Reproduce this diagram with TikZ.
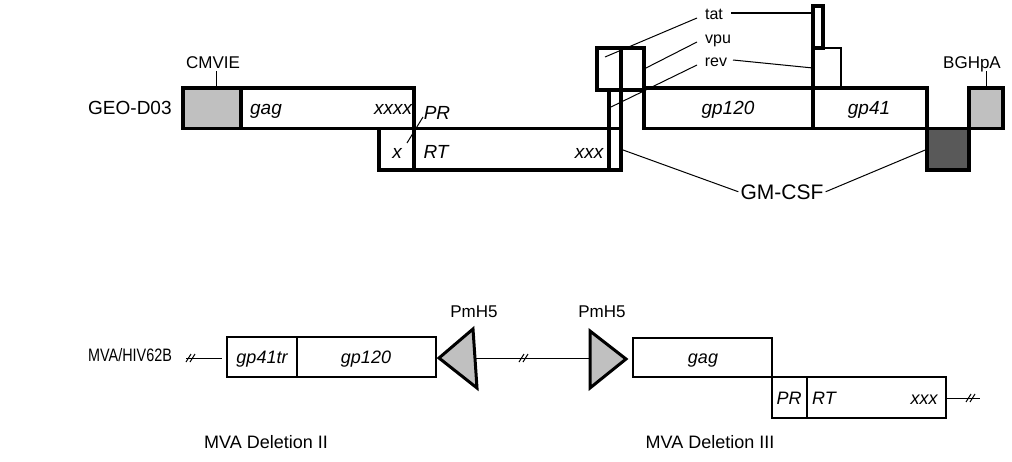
\documentclass[tikz,border=0pt]{standalone}
\usepackage{fontspec}
\setmainfont{Liberation Sans}
\definecolor{promo}{RGB}{192,192,192}
\definecolor{csf}{RGB}{89,89,89}
\tikzset{
  gene/.style={draw, line width=3.2pt, inner sep=0pt, outer sep=0pt, anchor=north west},
  genelbl/.style={inner sep=0pt, anchor=base, font=\fontsize{19}{22}\selectfont\itshape},
  lowlbl/.style={genelbl, font=\fontsize{18}{21}\selectfont\itshape},
  tag/.style={inner sep=0pt, anchor=base, font=\fontsize{17}{20}\selectfont},
  rowname/.style={inner sep=0pt, anchor=base west, font=\fontsize{19}{22}\selectfont},
  lead/.style={line width=1pt},
  brk/.style={line width=1pt},
  promoter/.style={line width=3pt, line join=miter, fill=promo},
}
\begin{document}
\begin{tikzpicture}[x=1pt,y=-1pt]
\useasboundingbox (0,0) rectangle (1012,461);

% ---------------- GEO-D03 construct ----------------
\node[rowname] (geo) at (88,114) {GEO-D03};

\node[gene, fill=promo, minimum width=58pt, minimum height=40.5pt] (cmv) at (183,88) {};
\node[gene, minimum width=173pt, minimum height=40.5pt] (gag) at (241,88) {};
\node[gene, minimum width=35pt, minimum height=41.5pt] (xb) at (379,128.5) {};
\node[gene, minimum width=195pt, minimum height=41.5pt] (rt) at (414,128.5) {};
\node[gene, minimum width=12pt, minimum height=38.5pt] (stripup) at (609,90) {};
\node[gene, minimum width=12pt, minimum height=41.5pt] (striplo) at (609,128.5) {};
\node[gene, minimum width=24pt, minimum height=42pt] (boxa) at (597,48) {};
\node[gene, minimum width=23pt, minimum height=42pt] (boxb) at (621,48) {};
\node[gene, minimum width=169pt, minimum height=40.5pt] (env) at (644,88) {};
\node[gene, minimum width=114pt, minimum height=40.5pt] (gp41) at (813,88) {};
\node[gene, minimum width=10pt, minimum height=42pt] (tatb) at (813,6) {};
\node[gene, line width=2.4pt, minimum width=28pt, minimum height=40pt] (revb) at (813,48) {};
\draw[line width=3.2pt] (revb.north west) -- (revb.south west);
\node[gene, fill=csf, minimum width=42pt, minimum height=41.5pt] (gm) at (927,128.5) {};
\node[gene, fill=promo, minimum width=34pt, minimum height=40.5pt] (bgh) at (969,88) {};

% gene names inside the boxes
\node[genelbl] (tgag) at (266,114) {gag};
\node[genelbl] (txxxx) at (393,114) {xxxx};
\node[genelbl] (tpr) at (437,119) {PR};
\node[genelbl] (tx) at (397,158) {x};
\node[genelbl] (trt) at (436,158) {RT};
\node[genelbl] (txxx) at (589,158) {xxx};
\node[genelbl] (tenv) at (728,114) {gp120};
\node[genelbl] (tgp41) at (869,114) {gp41};
\coordinate (prA) at (407,143);
\coordinate (prB) at (423,117);
\draw[lead] (prA) -- (prB);

% promoter / polyA tags
\node[tag] (lcmv) at (213,68) {CMVIE};
\node[tag] (lbgh) at (972,68) {BGHpA};
\draw[lead] (216,71) -- (cmv.north -| 216,0);
\draw[lead] (986,71) -- (bgh.north -| 986,0);

% accessory genes
\node[tag, font=\fontsize{16}{19}\selectfont] (ltat) at (714,19) {tat};
\node[tag, font=\fontsize{16}{19}\selectfont] (lvpu) at (718,43) {vpu};
\node[tag, font=\fontsize{16}{19}\selectfont] (lrev) at (716,66) {rev};
\coordinate (tatin) at (605,57);
\coordinate (vpuin) at (644,69);
\coordinate (revin) at (611,107);
\draw[lead] (697,18) -- (tatin);
\draw[lead] (697,42) -- (vpuin);
\draw[lead] (697,65) -- (revin);
\draw[line width=2pt] (731,13) -- (tatb.west |- 0,13);
\draw[lead] (733,60) -- (revb.west |- 0,68);

% GM-CSF callout
\node[tag, font=\fontsize{21}{24}\selectfont] (lgm) at (782,199) {GM-CSF};
\draw[lead] ([xshift=-2pt]lgm.west) -- (striplo.east);
\draw[lead] ([xshift=2pt]lgm.east) -- (gm.west);

% ---------------- MVA/HIV62B construct ----------------
\node[rowname, font=\fontsize{18}{21}\selectfont] (mva) at (88,361) {\scalebox{0.8}[1]{MVA/HIV62B}};

\coordinate (lend) at (186,358);
\coordinate (lstart) at (222,358);
\draw[lead] (lend) -- (lstart);
\draw[brk] (186,362) -- (191,354) (190,362) -- (195,354);

\node[gene, line width=2.8pt, minimum width=70pt, minimum height=40pt] (gptr) at (227,337) {};
\node[gene, line width=2.8pt, minimum width=139pt, minimum height=40pt] (gpenv) at (297,337) {};
\node[lowlbl] (tgptr) at (262,363) {gp41tr};
\node[lowlbl] (tgpenv) at (366,363) {gp120};

% PmH5 promoters (triangles)
\coordinate (ptl1) at (473,329);
\coordinate (ptl2) at (439,358);
\coordinate (ptl3) at (477,388);
\draw[promoter] (ptl1) -- (ptl2) -- (ptl3) -- cycle;
\coordinate (ptr1) at (590,331);
\coordinate (ptr2) at (626,359);
\coordinate (ptr3) at (590,388);
\draw[promoter] (ptr1) -- (ptr2) -- (ptr3) -- cycle;
\node[tag] (lpm1) at (474,317) {PmH5};
\node[tag] (lpm2) at (602,317) {PmH5};

\coordinate (mida) at (476,358);
\coordinate (midb) at (590,358);
\draw[lead] (mida) -- (midb);
\draw[brk] (519,362) -- (524,354) (523,362) -- (528,354);

\node[gene, line width=2.8pt, minimum width=139pt, minimum height=39pt] (bgag) at (633,338) {};
\node[gene, line width=2.8pt, minimum width=35pt, minimum height=41pt] (bpr) at (772,377) {};
\node[gene, line width=2.8pt, minimum width=139pt, minimum height=41pt] (brt) at (807,377) {};
\node[lowlbl] (tbgag) at (703,363) {gag};
\node[lowlbl] (tbpr) at (789,404) {PR};
\node[lowlbl] (tbrt) at (824,404) {RT};
\node[lowlbl] (tbxxx) at (924,404) {xxx};

\coordinate (rend) at (980,398);
\draw[lead] (brt.east |- rend) -- (rend);
\draw[brk] (966,402) -- (971,394) (970,402) -- (975,394);

\node[tag, font=\fontsize{18}{21}\selectfont] (del2) at (266,448) {MVA Deletion II};
\node[tag, font=\fontsize{18}{21}\selectfont] (del3) at (710,448) {MVA Deletion III};
\end{tikzpicture}
\end{document}
